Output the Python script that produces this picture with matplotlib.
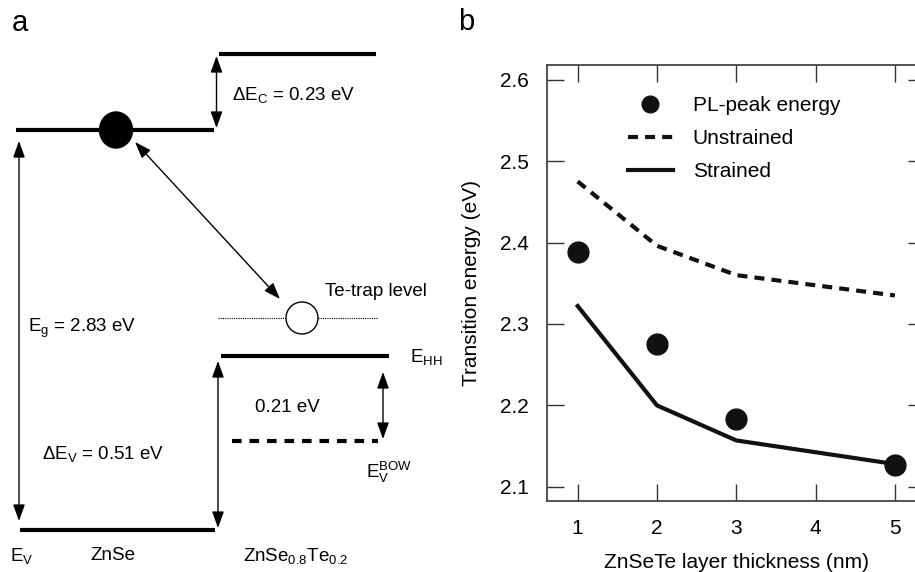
import matplotlib
matplotlib.use("Agg")
import matplotlib.pyplot as plt
from matplotlib.patches import Ellipse, Circle

plt.rcParams["font.family"] = ["Liberation Sans", "DejaVu Sans"]
plt.rcParams["mathtext.fontset"] = "custom"
plt.rcParams["mathtext.rm"] = "Liberation Sans"
plt.rcParams["mathtext.it"] = "Liberation Sans:italic"

# ── Data (panel b) ───────────────────────────────────────────────────────────
pl_x = [1, 2, 3, 5]
pl_energy = [2.388, 2.276, 2.183, 2.127]
calc_x = [1, 2, 3, 5]
unstrained = [2.475, 2.396, 2.360, 2.335]
strained = [2.322, 2.200, 2.157, 2.128]
x_ticks = [1, 2, 3, 4, 5]
y_ticks = [2.1, 2.2, 2.3, 2.4, 2.5, 2.6]

# ── Band diagram (panel a), positions in pixels of the sketch ────────────────
znse_cb, znsete_cb = 130, 54
znse_vb, e_hh, e_bow, te_trap = 530, 356, 441, 318

W, H = 915, 572
fig = plt.figure(figsize=(W / 100, H / 100), dpi=100)

# ── a ───────────────────────────────────────────────────────────────────────
ax = fig.add_axes([0, 0, 450 / W, 1])
ax.set_xlim(0, 450); ax.set_ylim(H, 0)
ax.axis("off")

lw_lvl = 3.0
ax.plot([16, 214], [znse_cb, znse_cb], color="k", lw=lw_lvl, solid_capstyle="butt")
ax.plot([219, 376], [znsete_cb, znsete_cb], color="k", lw=lw_lvl, solid_capstyle="butt")
ax.plot([20, 215], [znse_vb, znse_vb], color="k", lw=lw_lvl, solid_capstyle="butt")
ax.plot([221, 389], [e_hh, e_hh], color="k", lw=lw_lvl, solid_capstyle="butt")
ax.plot([232, 378], [e_bow, e_bow], color="k", lw=lw_lvl, dashes=(2.3, 1.9))
ax.plot([218, 378], [te_trap, te_trap], color="k", lw=0.8, ls=(0, (1, 1)))

ax.add_patch(Ellipse((116, znse_cb), 33, 36, color="k", zorder=4))
ax.add_patch(Circle((302, te_trap), 16, facecolor="white", edgecolor="k", lw=1.0, zorder=4))

arr = dict(arrowstyle="<|-|>,head_length=0.5,head_width=0.18", color="k", lw=1.0,
           mutation_scale=20, shrinkA=0, shrinkB=0)
ax.annotate("", xy=(216.5, znsete_cb + 2), xytext=(216.5, znse_cb - 2), arrowprops=arr)
ax.annotate("", xy=(19, znse_cb + 11), xytext=(19, znse_vb - 9), arrowprops=arr)
ax.annotate("", xy=(218, e_hh + 5), xytext=(218, znse_vb - 2), arrowprops=arr)
ax.annotate("", xy=(383, e_hh + 16), xytext=(383, e_bow - 2), arrowprops=arr)
ax.annotate("", xy=(135, 142), xytext=(280, 299), arrowprops=arr)

fs = 13.5
ax.text(232, 95, "ΔE$_\\mathregular{C}$ = 0.23 eV", fontsize=fs, va="center")
ax.text(325, 292, "Te-trap level", fontsize=fs, va="center")
ax.text(28, 328, "E$_\\mathregular{g}$ = 2.83 eV", fontsize=fs, va="center")
ax.text(410, 357, "E$_\\mathregular{HH}$", fontsize=fs, va="center")
ax.text(255, 408, "0.21 eV", fontsize=fs, va="center")
ax.text(42, 454, "ΔE$_\\mathregular{V}$ = 0.51 eV", fontsize=fs, va="center")
ax.text(366, 472, "E$_\\mathregular{V}^\\mathregular{BOW}$", fontsize=fs, va="center")
ax.text(10, 556, "E$_\\mathregular{V}$", fontsize=fs, va="center")
ax.text(90, 556, "ZnSe", fontsize=fs, va="center")
ax.text(243, 556, "ZnSe$_\\mathregular{0.8}$Te$_\\mathregular{0.2}$", fontsize=fs, va="center")
fig.text(12 / W, 1 - 23 / H, "a", fontsize=21, va="center")
fig.text(458 / W, 1 - 22 / H, "b", fontsize=21, va="center")

# ── b ───────────────────────────────────────────────────────────────────────
bx = fig.add_axes([547 / W, 1 - 500.7 / H, 378 / W, 435.7 / H])
bx.plot(pl_x, pl_energy, "o", color="#111111", ms=15, label="PL-peak energy", zorder=3)
bx.plot(calc_x, unstrained, color="#111111", lw=3.0, dashes=(2.4, 1.7), label="Unstrained")
bx.plot(calc_x, strained, color="#111111", lw=3.0, label="Strained")

bx.set_xlim(0.613, 5.38)
bx.set_ylim(2.083, 2.618)
bx.set_xticks(x_ticks)
bx.set_yticks(y_ticks)
bx.set_yticklabels([f"{v:.1f}" for v in y_ticks])
bx.tick_params(direction="in", length=12, width=1.0, labelsize=15, color="#333333",
               top=True, right=True, pad=13)
for s in bx.spines.values():
    s.set_linewidth(1.3); s.set_color("#444444")
bx.set_xlabel("ZnSeTe layer thickness (nm)", fontsize=15, labelpad=11)
bx.set_ylabel("Transition energy (eV)", fontsize=15, labelpad=14)

bx.legend(loc="upper left", bbox_to_anchor=(628 / W, 1 - 96 / H), bbox_transform=fig.transFigure,
          frameon=False, fontsize=15, borderpad=0, borderaxespad=0, handlelength=2.15,
          handletextpad=0.95, labelspacing=0.68, markerscale=0.8)

fig.savefig("out.png", dpi=100)
